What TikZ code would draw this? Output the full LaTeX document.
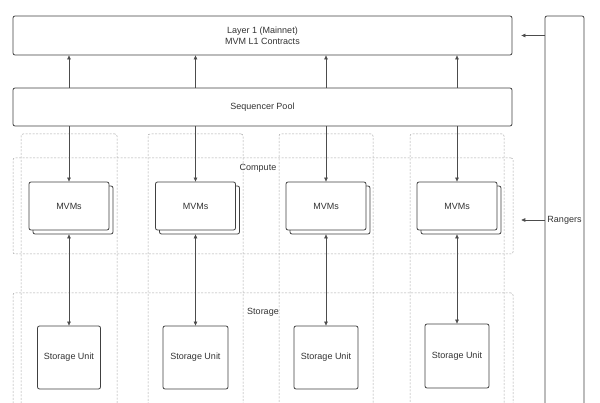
\documentclass[tikz,border=0pt]{standalone}
\usepackage{fontspec}
\setmainfont{Liberation Sans}
\usetikzlibrary{arrows.meta}

\begin{document}
\begin{tikzpicture}[
				x = 1pt, y = -1pt, % pixel grid, y down
				> = {Triangle[length=4pt,width=3.5pt]}, % arrow head style
				font = \fontsize{9}{11}\selectfont,
				text = black!80,
				block/.style = {draw=black!75, line width=0.8pt, rounded corners=2pt, fill=white, inner sep=0pt, align=center},
				zone/.style = {draw=black!35, line width=0.5pt, dash pattern=on 2pt off 1.5pt, rounded corners=2pt},
				link/.style = {draw=black!70, line width=0.6pt}
				]
				\useasboundingbox (0,0) rectangle (600,403);
				
				% dashed groups
				\node (col1) at (69,277) [zone, minimum width=96pt, minimum height=286pt] {};
				\node (col2) at (195.5,277) [zone, minimum width=95pt, minimum height=286pt] {};
				\node (col3) at (326,277) [zone, minimum width=94pt, minimum height=286pt] {};
				\node (col4) at (457,277) [zone, minimum width=94pt, minimum height=286pt] {};
				\node (compute) at (263,206) [zone, minimum width=500pt, minimum height=96pt] {};
				\node (storage) at (263,360) [zone, minimum width=500pt, minimum height=134pt] {};
				\node (computelbl) at (258,168) {Compute};
				\node (storagelbl) at (263,312) {Storage};
				
				% main blocks
				\node (l1) at (262.5,35.5) [block, minimum width=499pt, minimum height=39pt] {Layer 1 (Mainnet)\\MVM L1 Contracts};
				\node (seq) at (262.5,107) [block, minimum width=499pt, minimum height=38pt] {Sequencer Pool};
				\node (rangers) at (564.5,220) [block, minimum width=39pt, minimum height=408pt] {Rangers};
				
				% stacked MVMs
				\node (mvm1s) at (73,210) [block, minimum width=80pt, minimum height=48pt] {};
				\node (mvm1) at (69,206) [block, minimum width=80pt, minimum height=48pt] {MVMs};
				\node (mvm2s) at (199.5,210) [block, minimum width=80pt, minimum height=48pt] {};
				\node (mvm2) at (195.5,206) [block, minimum width=80pt, minimum height=48pt] {MVMs};
				\node (mvm3s) at (330,210) [block, minimum width=80pt, minimum height=48pt] {};
				\node (mvm3) at (326,206) [block, minimum width=80pt, minimum height=48pt] {MVMs};
				\node (mvm4s) at (461,210) [block, minimum width=80pt, minimum height=48pt] {};
				\node (mvm4) at (457,206) [block, minimum width=80pt, minimum height=48pt] {MVMs};
				
				% storage units
				\node (su1) at (69,357.5) [block, minimum width=63pt, minimum height=63pt] {Storage Unit};
				\node (su2) at (195.5,357.5) [block, minimum width=65pt, minimum height=63pt] {Storage Unit};
				\node (su3) at (326,357.5) [block, minimum width=64pt, minimum height=63pt] {Storage Unit};
				\node (su4) at (457,356) [block, minimum width=64pt, minimum height=64pt] {Storage Unit};
				
				\draw[link,->] (seq.north -| mvm1) -- (l1.south -| mvm1);
				\draw[link,->] (seq.north -| mvm2) -- (l1.south -| mvm2);
				\draw[link,->] (seq.north -| mvm3) -- (l1.south -| mvm3);
				\draw[link,->] (seq.north -| mvm4) -- (l1.south -| mvm4);
				
				\draw[link,->] (seq.south -| mvm1) -- (mvm1.north);
				\draw[link,->] (seq.south -| mvm2) -- (mvm2.north);
				\draw[link,->] (seq.south -| mvm3) -- (mvm3.north);
				\draw[link,->] (seq.south -| mvm4) -- (mvm4.north);
				
				\draw[link,<->] (mvm1s.south -| mvm1) -- (su1.north -| mvm1);
				\draw[link,<->] (mvm2s.south -| mvm2) -- (su2.north -| mvm2);
				\draw[link,<->] (mvm3s.south -| mvm3) -- (su3.north -| mvm3);
				\draw[link,<->] (mvm4s.south -| mvm4) -- (su4.north -| mvm4);
				
				\draw[link,->,shorten >=9pt] (rangers.west |- l1.east) -- (l1.east);
				\draw[link,->,shorten >=8pt] (rangers.west) -- (compute.east |- rangers.west);
				
			\end{tikzpicture}
\end{document}
